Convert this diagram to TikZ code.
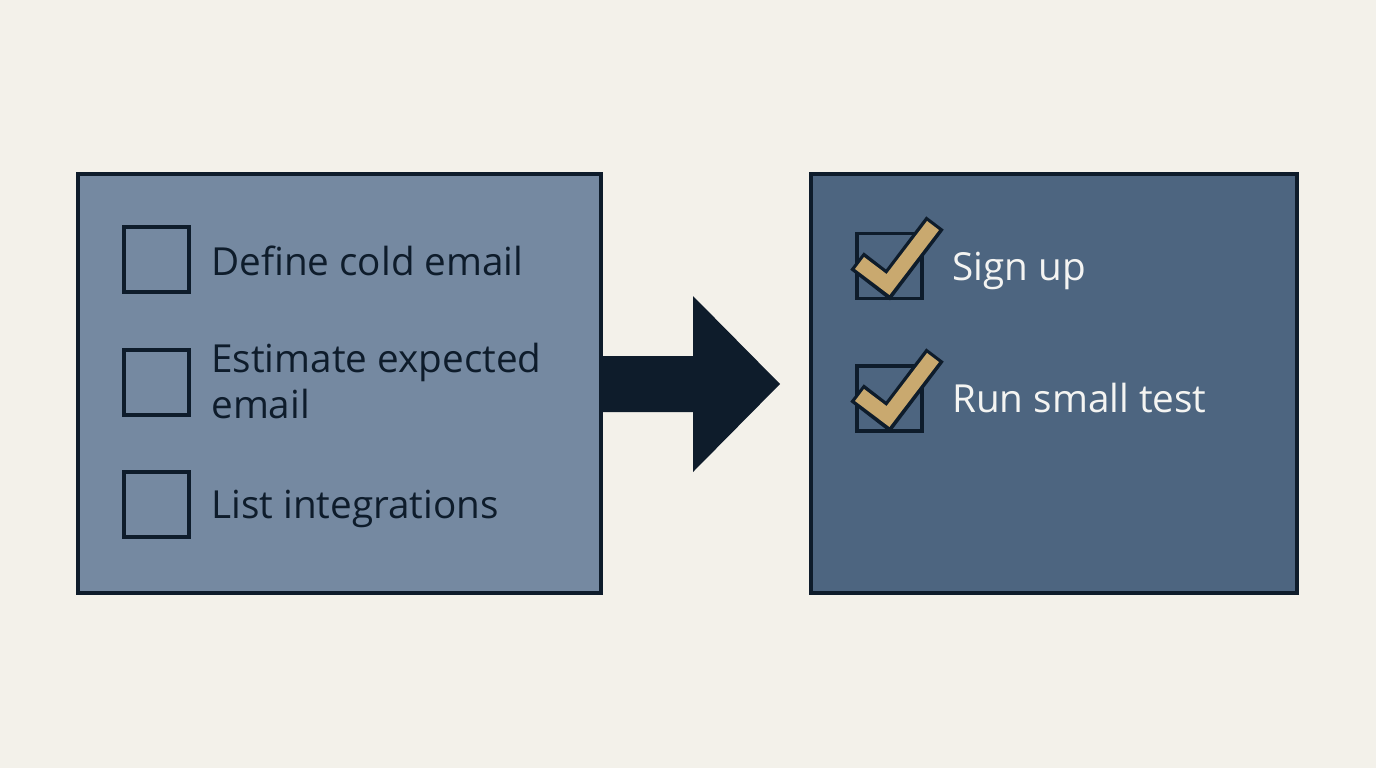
\documentclass[tikz,border=0pt]{standalone}
\usepackage{fontspec}
\setmainfont{Open Sans}
\definecolor{bg}{HTML}{F3F1EA}
\definecolor{ink}{HTML}{0E1C2B}
\definecolor{lbox}{HTML}{7589A1}
\definecolor{rbox}{HTML}{4D6580}
\definecolor{gold}{HTML}{C9A96F}
\definecolor{wtext}{HTML}{F4F4F2}
\tikzset{
  panel/.style={draw=ink, line width=1.9pt},
  cbox/.style={draw=ink, line width=2pt, minimum width=1.3cm, minimum height=1.3cm, inner sep=0pt},
  ltext/.style={anchor=base west, inner sep=0pt, text=ink, font=\fontsize{22}{26}\selectfont},
  rtext/.style={anchor=base west, inner sep=0pt, text=wtext, font=\fontsize{22}{26}\selectfont},
}
\begin{document}
\begin{tikzpicture}[x=0.02cm, y=-0.02cm]
\useasboundingbox (0,0) rectangle (1376,768);
\fill[bg] (0,0) rectangle (1376,768);
% panels
\node[panel, fill=lbox, minimum width=10.46cm, minimum height=8.38cm, inner sep=0pt] (left) at (339.5,383.5) {};
\node[panel, fill=rbox, minimum width=9.72cm, minimum height=8.38cm, inner sep=0pt] (right) at (1054,383.5) {};
% arrow
\fill[ink] (601,356) -- (693,356) -- (693,296) -- (780,384) -- (693,472) -- (693,412) -- (601,412) -- cycle;
\coordinate (arr) at (780,384);
% left checklist
\node[cbox] (c1) at (156.5,259.5) {};
\node[cbox] (c2) at (156.5,382.5) {};
\node[cbox] (c3) at (156.5,504.5) {};
\node[ltext] (t1) at (211,275) {Define cold email};
\node[ltext] (t2a) at (211,372) {Estimate expected};
\node[ltext] (t2b) at (211,418) {email};
\node[ltext] (t3) at (211,518) {List integrations};
% right checklist
\node[cbox] (d1) at (889.5,266) {};
\node[cbox] (d2) at (889.5,398.5) {};
\foreach \dy in {0,132}{
  \draw[ink, line width=12.5pt, line join=miter, line cap=butt] (857,261+\dy) -- (888,285+\dy) -- (935,223+\dy);
  \draw[gold, line width=8.5pt, line join=miter, line cap=butt] (859.5,263+\dy) -- (888,284.5+\dy) -- (933,225.5+\dy);
}
\node[rtext] (s1) at (952,280) {Sign up};
\node[rtext] (s2) at (952,412) {Run small test};
\end{tikzpicture}
\end{document}
